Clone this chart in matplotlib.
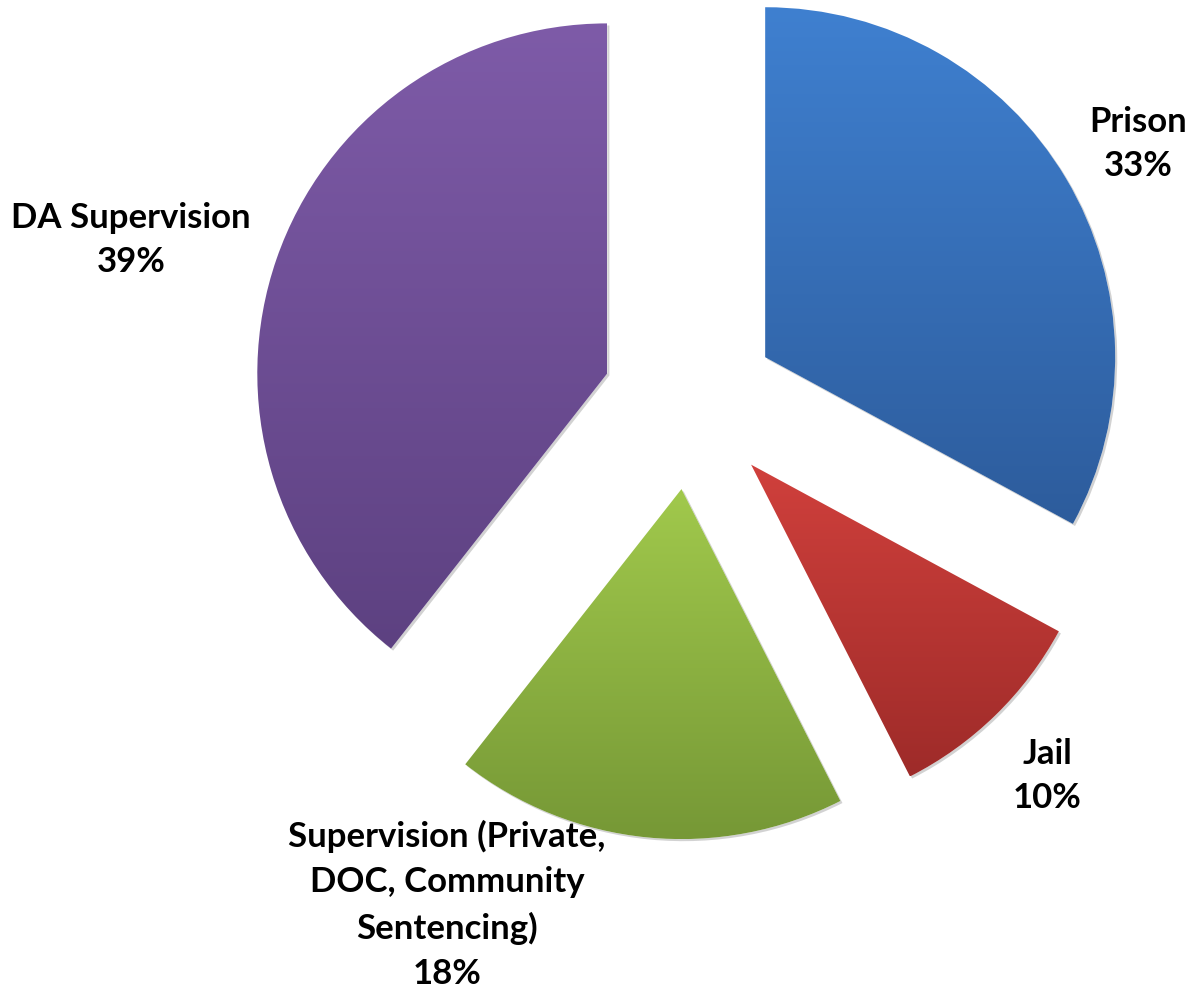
import matplotlib
matplotlib.use("Agg")
import matplotlib.pyplot as plt
import matplotlib.colors as mcolors
import matplotlib.patheffects as pe
import numpy as np

categories = ["Prison", "Jail", "Supervision (Private,\nDOC, Community\nSentencing)", "DA Supervision"]
shares = [32.9, 9.6, 18.1, 39.4]
top_colors = ["#3f80d0", "#d0403c", "#a1c94c", "#7e5ba8"]
bottom_colors = ["#2d5c9c", "#9e2b29", "#769836", "#5d4181"]

# label anchor points (pixel layout)
label_pos = [(1138, 144), (1047, 776), (447, 905), (131, 240)]

W, H = 1190, 990
fig = plt.figure(figsize=(W / 100, H / 100), dpi=100, facecolor="white")
ax = fig.add_axes([0, 0, 1, 1])
ax.axis("off")

center = (690, H - 402)
radius = 350
# pie's explode offset is in data units, so scale by radius
wedges, _ = ax.pie(shares, startangle=90, counterclock=False, radius=radius,
                   center=center, explode=[0.25 * radius] * len(shares),
                   wedgeprops=dict(linewidth=0))

# vertical gradient fill clipped to each wedge, with a faint drop shadow
for w, c_top, c_bot in zip(wedges, top_colors, bottom_colors):
    w.set_facecolor("white")
    w.set_path_effects([pe.SimplePatchShadow(offset=(1.5, -1.5), shadow_rgbFace="#808080",
                                             alpha=0.35), pe.Normal()])
    bb = w.get_path().get_extents(w.get_patch_transform())
    cmap = mcolors.LinearSegmentedColormap.from_list("g", [c_bot, c_top])
    grad = np.linspace(0, 1, 256).reshape(-1, 1)
    im = ax.imshow(grad, cmap=cmap, origin="lower", aspect="auto",
                   extent=[bb.x0, bb.x1, bb.y0, bb.y1], zorder=2,
                   interpolation="bilinear")
    im.set_clip_path(w)

ax.set_xlim(0, W)
ax.set_ylim(0, H)
ax.set_aspect("auto")

for name, val, (px, py) in zip(categories, shares, label_pos):
    ax.text(px, H - py, f"{name}\n{round(val)}%", ha="center", va="center",
            fontsize=25, fontweight="bold", family="Lato", color="black",
            linespacing=1.5)

fig.savefig("out.png", dpi=100, facecolor="white")
